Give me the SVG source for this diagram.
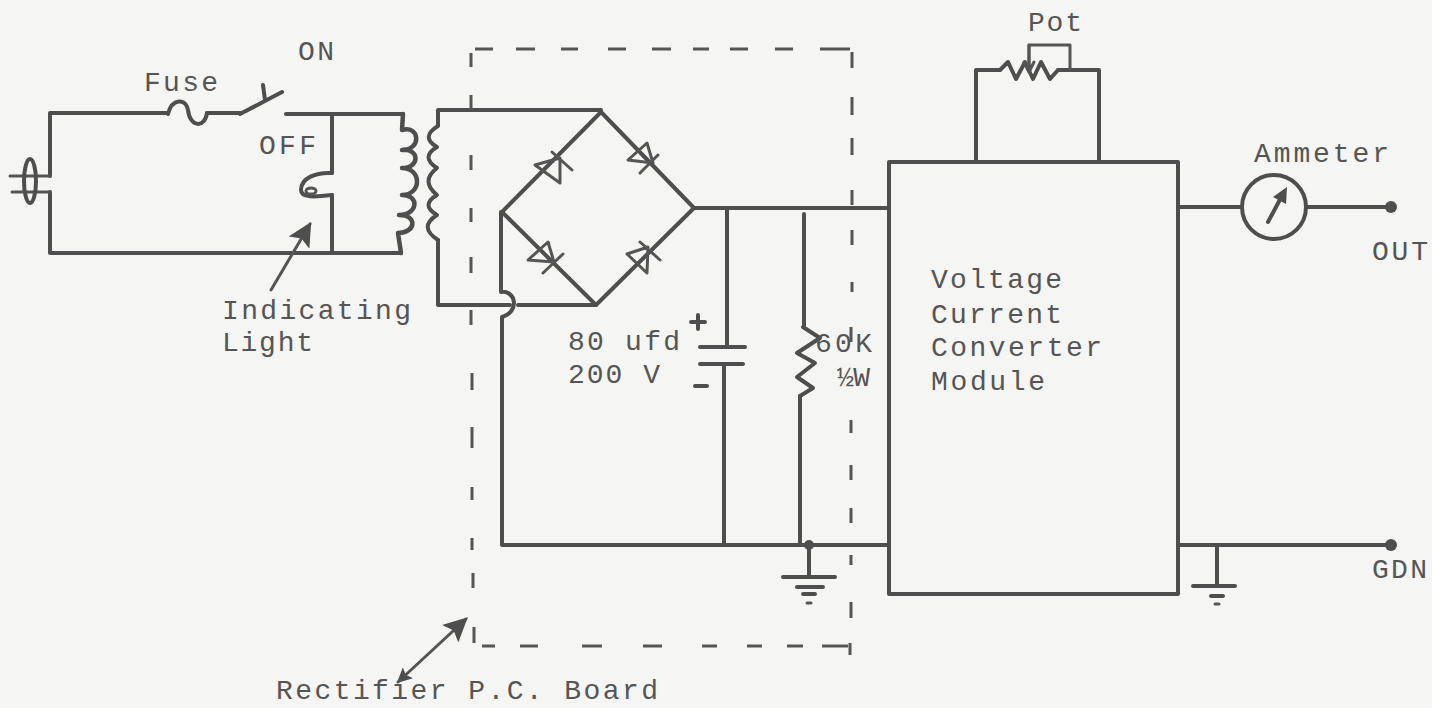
<svg xmlns="http://www.w3.org/2000/svg" width="1432" height="708" viewBox="0 0 1432 708">
<style>
.w{fill:none;stroke:#4e4e4e;stroke-width:4;stroke-linecap:round;stroke-linejoin:round}
.t{fill:none;stroke:#555;stroke-width:3;stroke-linecap:round;stroke-linejoin:round}
.d{fill:none;stroke:#555;stroke-width:3}
.f{fill:#4e4e4e;stroke:none}
text{font-family:"Liberation Mono","DejaVu Sans Mono",monospace;font-size:28px;fill:#555}
</style>
<defs>
<marker id="hb" viewBox="0 0 10 10" refX="9" refY="5" markerWidth="8" markerHeight="8" markerUnits="strokeWidth" orient="auto"><path d="M0,0L10,5L0,10L2,5Z" fill="#4e4e4e"/></marker>
<marker id="hs" viewBox="0 0 10 10" refX="9" refY="5" markerWidth="5" markerHeight="5" markerUnits="strokeWidth" orient="auto-start-reverse"><path d="M0,0L10,5L0,10L2,5Z" fill="#4e4e4e"/></marker>
</defs>
<rect width="1432" height="708" fill="#f5f5f3"/>

<g id="connectors">
<path class="w" d="M50,176V113H168M207,113H240M286,114H403M332,114V173M332,195V253M50,192V253H401"/>
<path class="w" d="M438,125V110H601M438,240V305H510M518,305H596"/>
<path class="w" d="M501,212V292C516,290 520,312 502,317V545H889M724,364V545M800,396V545"/>
<path class="w" d="M694,208H889M727,208V346M804,214V327"/>
<path class="w" d="M601,112L694,208L596,305L502,212Z"/>
<path class="w" d="M976,160V70H1000M1058,70H1099V160"/>
<path class="t" d="M1029,70V45H1070V70"/>
<path class="w" d="M1178,207H1242M1306,207H1390M1178,545H1390"/>
<path class="w" d="M809,545V577M1217,545V586"/>
<path class="t" d="M271,290L310,224" marker-end="url(#hb)"/>
<path class="t" d="M398,682L466,619" marker-start="url(#hs)" marker-end="url(#hb)"/>
</g>

<g id="board-outline">
<path class="d" d="M475,49H493M516,49H535M561,49H578M608,49H626M652,49H671M693,49H709M730,49H748M775,49H793M820,49H850"/>
<path class="d" d="M471,53V67M471,95V110M471,155V170M471,208V222M471,257V273M471,310V325M472,373V390M472,427V448M472,487V500M472,538V550M473,573V588M474,627V643"/>
<path class="d" d="M852,52V68M852,97V115M852,138V155M852,190V205M852,230V245M852,282V292M851,327V342M851,420V433M851,465V480M851,508V523M851,555V565M851,602V618M850,643V655"/>
<path class="d" d="M482,646H495M520,646H538M582,646H602M643,646H662M702,646H717M747,646H762M787,646H803M822,646H848"/>
</g>

<g id="plug">
<path class="t" d="M10,176H50M12,192H50"/>
<ellipse cx="30" cy="181" rx="6" ry="22" class="w"/>
</g>
<g id="fuse"><path class="w" d="M168,114C172,98 186,98 188,110C190,128 205,128 207,113"/><text x="144" y="91" textLength="74">Fuse</text></g>
<g id="switch">
<path class="w" d="M240,114L282,92M263,85L265,100"/>
<text x="298" y="60" textLength="36">ON</text>
<text x="259" y="154" textLength="57">OFF</text>
</g>
<g id="indicating-light">
<path class="w" d="M332,173C316,172 301,178 301,190C301,198 315,197 332,195"/>
<ellipse cx="311" cy="191" rx="5" ry="3" class="t"/>
<text x="222" y="319" textLength="189">Indicating</text>
<text x="222" y="351" textLength="91">Light</text>
</g>
<g id="transformer">
<path class="w" d="M403,114L402,130C420,125 422,150 402,150C420,148 420,168 402,168C422,168 422,195 402,195C420,195 418,215 399,215C418,215 416,233 398,233L401,253" style="stroke-width:4.5"/>
<path class="w" d="M438,126Q420,137 437,147Q420,157 437,168Q420,181 437,195Q420,205 437,215Q418,227 438,240"/>
</g>
<g id="diodes">
<path class="t" d="M535,165L560,183L560,158ZM552,152L572,170"/>
<path class="t" d="M628,160L647,143L653,163ZM640,173L658,155"/>
<path class="t" d="M528,260L548,242L554,262ZM543,273L563,254"/>
<path class="t" d="M627,254L647,273L648,247ZM640,242L660,260"/>
</g>
<g id="capacitor">
<path class="w" d="M700,347H745M700,364H743M691,322H705M698,315V329M695,386H707"/>
<text x="568" y="350" textLength="112">80 ufd</text>
<text x="568" y="383" textLength="92">200 V</text>
</g>
<g id="resistor">
<path class="w" d="M803,327L820,338L797,353L815,363L797,377L813,388L800,396"/>
<text x="815" y="352" textLength="57">60K</text>
<text x="837" y="386" textLength="33">½W</text>
</g>
<g id="ground-1">
<circle cx="809" cy="545" r="5" class="f"/>
<path class="w" d="M783,577H835M797,587H823M803,594H815"/>
<path class="t" d="M807,603H811"/>
</g>
<g id="module">
<rect x="889" y="162" width="289" height="432" class="w"/>
<text x="931" y="288" textLength="131">Voltage</text>
<text x="931" y="323" textLength="131">Current</text>
<text x="931" y="356" textLength="171">Converter</text>
<text x="931" y="390" textLength="114">Module</text>
</g>
<g id="pot">
<path class="w" d="M1000,70L1008,62L1016,79L1025,62L1033,79L1041,62L1050,79L1058,70"/>
<path class="t" d="M1029,45V72M1024,62L1029,72L1034,62"/>
<text x="1028" y="31" textLength="54">Pot</text>
</g>
<g id="ammeter">
<circle cx="1274" cy="207" r="32" class="w"/>
<path class="w" d="M1268,222L1284,192"/>
<path class="f" d="M1287,187L1286,204L1273,197Z"/>
<text x="1254" y="162" textLength="135">Ammeter</text>
</g>
<g id="out"><circle cx="1391" cy="207" r="6" class="f"/><text x="1372" y="260" textLength="56">OUT</text></g>
<g id="gdn"><circle cx="1391" cy="545" r="6" class="f"/><text x="1372" y="578" textLength="55">GDN</text></g>
<g id="ground-2"><path class="w" d="M1193,586H1235M1211,596H1223"/><path class="t" d="M1215,604H1219"/></g>
<g id="board-label"><text x="276" y="699" textLength="382">Rectifier P.C. Board</text></g>
</svg>
